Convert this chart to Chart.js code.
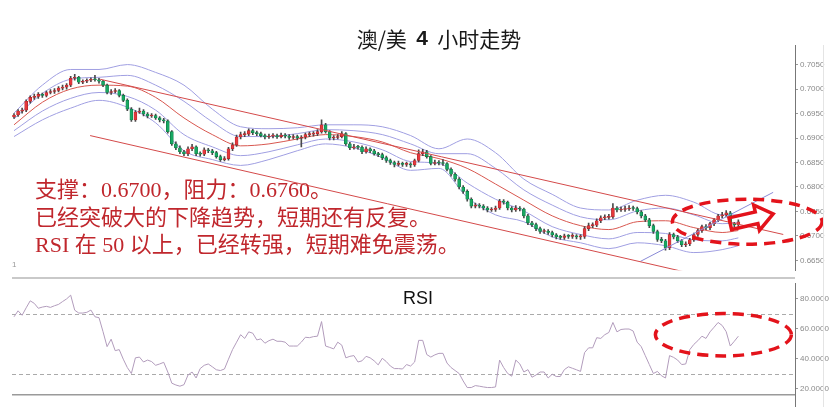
<!DOCTYPE html>
<html><head><meta charset="utf-8">
<script src="https://cdn.jsdelivr.net/npm/chart.js@4/dist/chart.umd.min.js"></script>
<style>
html,body{margin:0;padding:0;background:#fff;}
#wrap{position:relative;width:838px;height:407px;overflow:hidden;background:#fff;}
canvas{position:absolute;left:0;}
#c1{top:0;width:838px;height:277px;}
#c2{top:277px;width:838px;height:130px;}
#vline{position:absolute;left:823px;top:45px;width:1px;height:362px;background:#e4e4e4;}
</style></head><body>
<div id="wrap">
<canvas id="c1" width="838" height="277"></canvas>
<canvas id="c2" width="838" height="130"></canvas>
<div id="vline"></div>
</div>
<script>
// ---------------- DATA ----------------
const TITLE_PARTS = ["澳/美  ", "4", "  小时走势"];
const NOTES = ["支撑：0.6700，阻力：0.6760。", "已经突破大的下降趋势，短期还有反复。", "RSI 在 50 以上，已经转强，短期难免震荡。"];
const RSI_LABEL = "RSI";

const open = [
0.6943,0.6947,0.6955,0.6957,0.6975,0.6983,0.6985,0.6989,0.6987,0.6993,
0.6995,0.6997,0.7002,0.7004,0.7008,0.7022,0.7024,0.7014,0.7016,0.7018,
0.7020,0.7019,0.7016,0.7008,0.6993,0.6995,0.6997,0.6987,0.6977,0.6959,
0.6937,0.6953,0.6955,0.6949,0.6945,0.6946,0.6941,0.6937,0.6935,0.6913,
0.6888,0.6880,0.6872,0.6868,0.6878,0.6882,0.6868,0.6867,0.6876,0.6874,
0.6870,0.6862,0.6856,0.6858,0.6878,0.6886,0.6902,0.6907,0.6908,0.6915,
0.6911,0.6909,0.6905,0.6902,0.6904,0.6905,0.6903,0.6906,0.6904,0.6901,
0.6903,0.6900,0.6902,0.6907,0.6908,0.6909,0.6913,0.6927,0.6913,0.6900,
0.6901,0.6903,0.6909,0.6888,0.6880,0.6882,0.6881,0.6872,0.6878,0.6874,
0.6868,0.6866,0.6860,0.6854,0.6850,0.6846,0.6848,0.6846,0.6847,0.6845,
0.6854,0.6868,0.6872,0.6862,0.6848,0.6850,0.6849,0.6848,0.6836,0.6826,
0.6816,0.6800,0.6791,0.6775,0.6761,0.6762,0.6761,0.6757,0.6753,0.6754,
0.6757,0.6771,0.6769,0.6757,0.6753,0.6757,0.6755,0.6741,0.6727,0.6723,
0.6715,0.6709,0.6710,0.6707,0.6702,0.6698,0.6697,0.6700,0.6699,0.6700,
0.6698,0.6699,0.6715,0.6721,0.6722,0.6731,0.6737,0.6738,0.6739,0.6757,
0.6753,0.6754,0.6755,0.6757,0.6756,0.6749,0.6741,0.6733,0.6721,0.6709,
0.6693,0.6690,0.6676,0.6703,0.6698,0.6690,0.6682,0.6684,0.6692,0.6703,
0.6711,0.6719,0.6717,0.6725,0.6733,0.6741,0.6743,0.6747,0.6725,0.6723];

const high = [
0.6950,0.6958,0.6961,0.6978,0.6986,0.6990,0.6993,0.6992,0.6996,0.6999,
0.7001,0.7005,0.7008,0.7011,0.7026,0.7030,0.7026,0.7019,0.7021,0.7023,
0.7028,0.7022,0.7018,0.7010,0.6999,0.7001,0.6999,0.6990,0.6980,0.6962,
0.6956,0.6961,0.6958,0.6952,0.6950,0.6949,0.6944,0.6940,0.6937,0.6915,
0.6892,0.6884,0.6875,0.6882,0.6887,0.6884,0.6872,0.6880,0.6879,0.6877,
0.6873,0.6865,0.6862,0.6881,0.6890,0.6906,0.6912,0.6913,0.6919,0.6918,
0.6914,0.6912,0.6908,0.6908,0.6909,0.6908,0.6910,0.6909,0.6907,0.6907,
0.6906,0.6905,0.6910,0.6912,0.6913,0.6917,0.6937,0.6930,0.6915,0.6905,
0.6907,0.6913,0.6911,0.6891,0.6887,0.6885,0.6884,0.6882,0.6880,0.6877,
0.6871,0.6869,0.6863,0.6857,0.6853,0.6853,0.6851,0.6851,0.6850,0.6857,
0.6876,0.6877,0.6875,0.6864,0.6855,0.6854,0.6856,0.6850,0.6839,0.6829,
0.6819,0.6803,0.6794,0.6778,0.6767,0.6766,0.6764,0.6760,0.6758,0.6761,
0.6775,0.6774,0.6771,0.6760,0.6762,0.6760,0.6757,0.6744,0.6730,0.6726,
0.6718,0.6714,0.6713,0.6710,0.6705,0.6701,0.6704,0.6703,0.6705,0.6703,
0.6703,0.6719,0.6726,0.6727,0.6735,0.6741,0.6743,0.6744,0.6766,0.6760,
0.6759,0.6761,0.6762,0.6761,0.6759,0.6752,0.6744,0.6736,0.6724,0.6712,
0.6697,0.6693,0.6707,0.6706,0.6701,0.6693,0.6688,0.6695,0.6706,0.6714,
0.6722,0.6723,0.6728,0.6736,0.6744,0.6748,0.6752,0.6750,0.6728,0.6733];

const low = [
0.6940,0.6944,0.6951,0.6954,0.6971,0.6979,0.6981,0.6983,0.6984,0.6990,
0.6991,0.6994,0.6998,0.7000,0.7005,0.7018,0.7011,0.7011,0.7013,0.7015,
0.7016,0.7012,0.7005,0.6990,0.6989,0.6992,0.6984,0.6974,0.6956,0.6934,
0.6934,0.6950,0.6945,0.6941,0.6942,0.6938,0.6933,0.6931,0.6910,0.6885,
0.6876,0.6868,0.6864,0.6864,0.6874,0.6864,0.6863,0.6864,0.6870,0.6866,
0.6859,0.6852,0.6853,0.6855,0.6874,0.6883,0.6898,0.6903,0.6905,0.6907,
0.6905,0.6902,0.6898,0.6899,0.6900,0.6899,0.6900,0.6900,0.6897,0.6898,
0.6896,0.6882,0.6898,0.6903,0.6904,0.6905,0.6910,0.6910,0.6896,0.6896,
0.6898,0.6900,0.6885,0.6876,0.6877,0.6877,0.6868,0.6869,0.6870,0.6865,
0.6862,0.6856,0.6850,0.6846,0.6841,0.6843,0.6842,0.6842,0.6840,0.6842,
0.6851,0.6864,0.6859,0.6845,0.6845,0.6845,0.6844,0.6833,0.6822,0.6812,
0.6796,0.6787,0.6771,0.6757,0.6757,0.6757,0.6753,0.6749,0.6750,0.6750,
0.6754,0.6765,0.6753,0.6749,0.6750,0.6751,0.6737,0.6723,0.6719,0.6711,
0.6705,0.6705,0.6703,0.6698,0.6694,0.6693,0.6693,0.6695,0.6695,0.6694,
0.6693,0.6695,0.6711,0.6717,0.6719,0.6727,0.6733,0.6734,0.6736,0.6749,
0.6750,0.6750,0.6752,0.6752,0.6745,0.6737,0.6729,0.6717,0.6705,0.6689,
0.6686,0.6671,0.6672,0.6694,0.6686,0.6678,0.6678,0.6680,0.6689,0.6699,
0.6707,0.6713,0.6713,0.6721,0.6729,0.6737,0.6739,0.6721,0.6718,0.6719];

const close = [
0.6947,0.6955,0.6957,0.6975,0.6983,0.6985,0.6989,0.6987,0.6993,0.6995,
0.6997,0.7002,0.7004,0.7008,0.7022,0.7024,0.7014,0.7016,0.7018,0.7020,
0.7019,0.7016,0.7008,0.6993,0.6995,0.6997,0.6987,0.6977,0.6959,0.6937,
0.6953,0.6955,0.6949,0.6945,0.6946,0.6941,0.6937,0.6935,0.6913,0.6888,
0.6880,0.6872,0.6868,0.6878,0.6882,0.6868,0.6867,0.6876,0.6874,0.6870,
0.6862,0.6856,0.6858,0.6878,0.6886,0.6902,0.6907,0.6908,0.6915,0.6911,
0.6909,0.6905,0.6902,0.6904,0.6905,0.6903,0.6906,0.6904,0.6901,0.6903,
0.6900,0.6902,0.6907,0.6908,0.6909,0.6913,0.6927,0.6913,0.6900,0.6901,
0.6903,0.6909,0.6888,0.6880,0.6882,0.6881,0.6872,0.6878,0.6874,0.6868,
0.6866,0.6860,0.6854,0.6850,0.6846,0.6848,0.6846,0.6847,0.6845,0.6854,
0.6868,0.6872,0.6862,0.6848,0.6850,0.6849,0.6848,0.6836,0.6826,0.6816,
0.6800,0.6791,0.6775,0.6761,0.6762,0.6761,0.6757,0.6753,0.6754,0.6757,
0.6771,0.6769,0.6757,0.6753,0.6757,0.6755,0.6741,0.6727,0.6723,0.6715,
0.6709,0.6710,0.6707,0.6702,0.6698,0.6697,0.6700,0.6699,0.6700,0.6698,
0.6699,0.6715,0.6721,0.6722,0.6731,0.6737,0.6738,0.6739,0.6757,0.6753,
0.6754,0.6755,0.6757,0.6756,0.6749,0.6741,0.6733,0.6721,0.6709,0.6693,
0.6690,0.6676,0.6703,0.6698,0.6690,0.6682,0.6684,0.6692,0.6703,0.6711,
0.6719,0.6717,0.6725,0.6733,0.6741,0.6743,0.6747,0.6725,0.6723,0.6729];

// Bollinger-style band lines at every 7th candle
const bandIdx = [0,7,14,21,28,35,42,49,56,63,70,77,84,91,98,105,112,119,126,133,140,147,154,161,168,175,179];
const bandUpper2 = [0.6951,0.7008,0.7040,0.7040,0.7050,0.7034,0.7008,0.6959,0.6923,0.6919,0.6921,0.6927,0.6927,0.6923,0.6905,0.6878,0.6898,0.6870,0.6816,0.6785,0.6757,0.6753,0.6773,0.6783,0.6769,0.6743,0.6743];
const bandUpper1 = [0.6939,0.6991,0.7020,0.7024,0.7028,0.7008,0.6975,0.6933,0.6903,0.6903,0.6909,0.6917,0.6915,0.6907,0.6888,0.6868,0.6868,0.6838,0.6794,0.6763,0.6739,0.6733,0.6751,0.6757,0.6743,0.6725,0.6727];
const bandMid    = [0.6927,0.6973,0.7000,0.7008,0.7006,0.6983,0.6941,0.6907,0.6884,0.6888,0.6898,0.6907,0.6903,0.6892,0.6870,0.6858,0.6838,0.6806,0.6773,0.6741,0.6721,0.6713,0.6729,0.6731,0.6717,0.6707,0.6711];
const bandLower1 = [0.6915,0.6955,0.6981,0.6993,0.6985,0.6957,0.6907,0.6882,0.6864,0.6872,0.6886,0.6898,0.6892,0.6876,0.6852,0.6848,0.6808,0.6775,0.6751,0.6719,0.6703,0.6694,0.6707,0.6705,0.6692,0.6690,0.6696];
const bandLower2 = [0.6903,0.6937,0.6961,0.6977,0.6963,0.6931,0.6874,0.6856,0.6844,0.6856,0.6874,0.6888,0.6880,0.6860,0.6834,0.6838,0.6779,0.6743,0.6729,0.6698,0.6686,0.6674,0.6686,0.6680,0.6666,0.6672,0.6680];

// hand-drawn trend lines: [candle index, price]
const trendUpper = [[21.3, 0.7020], [190.1, 0.6703]];
const trendLower = [[18.8, 0.6905], [166.0, 0.6626]];
const riseLine   = [[154.8, 0.6648], [187.6, 0.6789]];

const rsi = [
68,72,69,74,78.7,77,73.7,74.5,75,74.3,
75.4,76.3,78.2,80,82.5,72.4,70.5,70.5,71,72.5,
68,67.4,58,48,53,45.3,46,39.6,34,30,
40.5,41,37.7,39,38,35.5,36.4,37.5,31,23.5,
22.3,21.5,22.5,29,31,27,33.3,35.5,36.4,34.5,
32.5,32,33,39.6,46,51,56,53.5,57.9,57,
52.5,53.2,50.3,52,53,51.6,51.6,51,48.4,48.4,
48.4,51,54.3,54,54.7,55,64.8,48.4,47.5,46.5,
51,49,40.5,41.5,42,37.7,38.5,41.5,40.5,38.5,
35.8,40.2,38,35,33.3,33.3,33,36,35,37.7,
52.2,52.2,42.7,41,42.5,43.5,43.5,37,34,32,
30,25,20.6,20.6,21.9,21.5,21,20.6,20.6,21,
39,34,30,28.2,39,36.4,31,32.6,27.5,29,
31,31,27,29.5,28,28,32.6,34.5,33.5,32.5,
31.4,44,47.2,47.2,54,53.5,56,57.5,64.2,57.9,
59.5,59.8,59.8,58.5,51,48,42,36,30,31.4,
28.5,27,42,40.8,39,36,36.4,46,49.5,52,
55,53.5,57.9,61,64.2,62.2,58,48.4,51.6,55];
const rsiLevels = [70, 30];

// annotations in data units
const ellipseMain = {x: 181.2, y: 0.6729, rx: 18.5, ry: 0.0046};
const ellipseRsi  = {x: 175.3, y: 56, rx: 16.8, ry: 14.2};
const arrowMain   = {from: [177.0, 0.6725], to: [187.6, 0.6745]};

// ---------------- STYLE ----------------
const UP = '#e5373c', UP_B = '#a8262a', DN = '#18a862', DN_B = '#0f7744';
const BAND = '#a09fe2', MID = '#d8574f', TREND = '#d44a4a', RISE = '#8a8ad6';
const RED = '#e3131b';

const idx = close.map((_, i) => i);
const pairs = (xs, ys) => xs.map((x, j) => ({x: x, y: ys[j]}));
const seg = s => s.map(p => ({x: p[0], y: p[1]}));

function lineDs(data, color, order, w) {
  return {type: 'line', data: data, borderColor: color, borderWidth: w || 1, pointRadius: 0,
          fill: false, cubicInterpolationMode: 'monotone', order: order};
}

function drawEllipse(ctx, xs, ys, e) {
  const cx = xs.getPixelForValue(e.x), cy = ys.getPixelForValue(e.y);
  const rx = Math.abs(xs.getPixelForValue(e.x + e.rx) - cx);
  const ry = Math.abs(ys.getPixelForValue(e.y + e.ry) - cy);
  ctx.save();
  ctx.beginPath();
  ctx.ellipse(cx, cy, rx, ry, 0, 0, Math.PI * 2);
  ctx.setLineDash([11, 7]);
  ctx.lineWidth = 3.5;
  ctx.strokeStyle = RED;
  ctx.stroke();
  ctx.restore();
}

function drawArrow(ctx, xs, ys, a) {
  const x1 = xs.getPixelForValue(a.from[0]), y1 = ys.getPixelForValue(a.from[1]);
  const x2 = xs.getPixelForValue(a.to[0]), y2 = ys.getPixelForValue(a.to[1]);
  const ang = Math.atan2(y2 - y1, x2 - x1), len = Math.hypot(x2 - x1, y2 - y1);
  const sw = 6, hw = 13, hl = 17;
  ctx.save();
  ctx.translate(x1, y1); ctx.rotate(ang);
  ctx.beginPath();
  ctx.moveTo(0, -sw); ctx.lineTo(len - hl, -sw); ctx.lineTo(len - hl, -hw);
  ctx.lineTo(len, 0); ctx.lineTo(len - hl, hw); ctx.lineTo(len - hl, sw); ctx.lineTo(0, sw);
  ctx.closePath();
  ctx.lineWidth = 3.5; ctx.strokeStyle = RED; ctx.lineJoin = 'miter';
  ctx.stroke();
  ctx.restore();
}

function drawTitle(ctx) {
  const fonts = ['21px "Noto Sans CJK SC", sans-serif', 'bold 21px "Liberation Sans", Arial, sans-serif', '21px "Noto Sans CJK SC", sans-serif'];
  const widths = TITLE_PARTS.map((t, k) => { ctx.font = fonts[k]; return ctx.measureText(t).width; });
  let x = 439 - widths.reduce((a, b) => a + b, 0) / 2;
  ctx.fillStyle = '#1a1a1a'; ctx.textAlign = 'left'; ctx.textBaseline = 'middle';
  TITLE_PARTS.forEach((t, k) => { ctx.font = fonts[k]; ctx.fillText(t, x, 39); x += widths[k]; });
}

const overlay1 = {
  id: 'overlay1',
  afterDatasetsDraw(chart) {
    const ctx = chart.ctx, xs = chart.scales.x, ys = chart.scales.y;
    ctx.save();
    drawTitle(ctx);
    ctx.fillStyle = '#c0272d';
    ctx.font = '22px "Liberation Serif", "Noto Sans CJK SC", serif';
    ctx.textAlign = 'left'; ctx.textBaseline = 'middle';
    const ny = [191, 219, 246];
    NOTES.forEach((t, k) => ctx.fillText(t, 35, ny[k]));
    ctx.fillStyle = '#999';
    ctx.font = '8px "Liberation Sans", sans-serif';
    ctx.fillText('1', 12, 265);
    ctx.restore();
    drawEllipse(ctx, xs, ys, ellipseMain);
    drawArrow(ctx, xs, ys, arrowMain);
  }
};

const overlay2 = {
  id: 'overlay2',
  beforeDatasetsDraw(chart) {
    const ctx = chart.ctx, ys = chart.scales.y, a = chart.chartArea;
    ctx.save();
    ctx.strokeStyle = '#aaa'; ctx.lineWidth = 1; ctx.setLineDash([4, 3]);
    rsiLevels.forEach(v => {
      const y = Math.round(ys.getPixelForValue(v)) + 0.5;
      ctx.beginPath(); ctx.moveTo(a.left, y); ctx.lineTo(a.right, y); ctx.stroke();
    });
    ctx.restore();
  },
  afterDraw(chart) {
    const ctx = chart.ctx, xs = chart.scales.x, ys = chart.scales.y, a = chart.chartArea;
    ctx.save();
    ctx.fillStyle = '#c9c9c9'; ctx.fillRect(a.left, 0, a.right - a.left, 2);
    ctx.fillStyle = '#9a9a9a'; ctx.fillRect(a.left, a.bottom - 1, a.right - a.left, 1.5);
    ctx.fillStyle = '#777'; ctx.fillRect(a.right, a.bottom, 1, chart.height - a.bottom);
    ctx.fillStyle = '#111';
    ctx.font = '18px "Liberation Sans", Arial, sans-serif';
    ctx.textAlign = 'center'; ctx.textBaseline = 'middle';
    ctx.fillText(RSI_LABEL, 418, 22);
    ctx.restore();
    drawEllipse(ctx, xs, ys, ellipseRsi);
  }
};

const yAxisCommon = (min, max, step) => ({
  position: 'right', min: min, max: max,
  afterFit(s) { s.width = 43; },
  border: {display: true, color: '#777', width: 1},
  grid: {drawOnChartArea: false, drawTicks: true, tickLength: 3, color: '#999'},
  ticks: {stepSize: step, includeBounds: false, padding: 2, color: '#8a8a8a',
          font: {size: 8, family: '"Liberation Sans", Arial, sans-serif'},
          callback: v => Number(v).toFixed(4)}
});

new Chart(document.getElementById('c1'), {
  type: 'bar',
  data: {datasets: [
    lineDs(pairs(bandIdx, bandUpper2), BAND, 6),
    lineDs(pairs(bandIdx, bandUpper1), BAND, 6),
    lineDs(pairs(bandIdx, bandLower1), BAND, 6),
    lineDs(pairs(bandIdx, bandLower2), BAND, 6),
    lineDs(pairs(bandIdx, bandMid), MID, 5),
    {type: 'bar', data: idx.map(i => ({x: i, y: [low[i], high[i]]})), backgroundColor: '#4a4a4a',
     barThickness: 1, grouped: false, order: 4},
    {type: 'bar', data: idx.map(i => ({x: i, y: [open[i], close[i]]})),
     backgroundColor: c => close[c.dataIndex] >= open[c.dataIndex] ? UP : DN,
     borderColor: c => close[c.dataIndex] >= open[c.dataIndex] ? UP_B : DN_B,
     borderWidth: 0.6, borderSkipped: false, barThickness: 3, minBarLength: 1, grouped: false, order: 3},
    lineDs(seg(trendUpper), TREND, 2),
    lineDs(seg(trendLower), TREND, 2),
    lineDs(seg(riseLine), RISE, 2)
  ]},
  options: {
    responsive: false, animation: false, devicePixelRatio: 1,
    layout: {padding: {left: 12, top: 45, right: 0, bottom: 0}},
    plugins: {legend: {display: false}, tooltip: {enabled: false}},
    scales: {
      x: {type: 'linear', min: -0.5, max: 193, offset: false, display: false},
      y: yAxisCommon(0.6630, 0.7090, 0.005)
    }
  },
  plugins: [overlay1]
});

new Chart(document.getElementById('c2'), {
  type: 'line',
  data: {datasets: [
    {data: pairs(idx, rsi), borderColor: '#b29cbc', borderWidth: 1, pointRadius: 0, fill: false, tension: 0}
  ]},
  options: {
    responsive: false, animation: false, devicePixelRatio: 1,
    layout: {padding: {left: 12, top: 0, right: 0, bottom: 12}},
    plugins: {legend: {display: false}, tooltip: {enabled: false}},
    scales: {
      x: {type: 'linear', min: -0.5, max: 193, offset: false, display: false},
      y: yAxisCommon(15.6, 90.1, 20)
    }
  },
  plugins: [overlay2]
});
</script>
</body></html>
